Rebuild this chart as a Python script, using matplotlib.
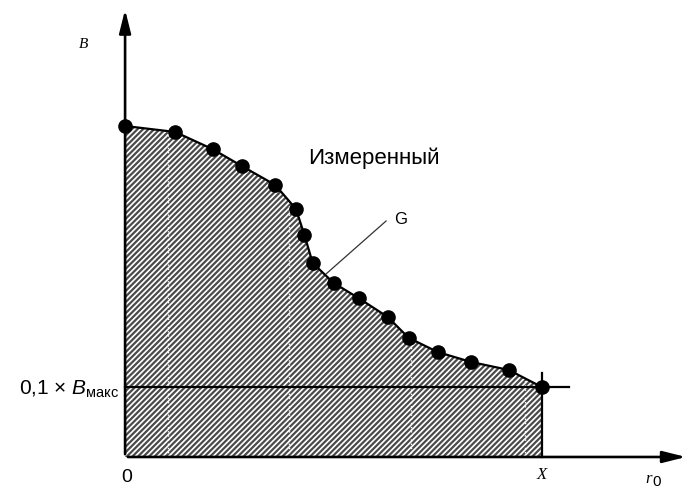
import matplotlib.pyplot as plt
import numpy as np

plt.rcParams['font.family'] = ['Liberation Sans', 'DejaVu Sans']
plt.rcParams['mathtext.fontset'] = 'custom'
plt.rcParams['mathtext.rm'] = 'Liberation Sans'
plt.rcParams['mathtext.it'] = 'Liberation Sans:italic'
plt.rcParams['hatch.linewidth'] = 1.6
plt.rcParams['hatch.color'] = '#4a4a4a'

# измеренные точки (r0, B)
r0 = [0.0, 1.2, 2.1, 2.8, 3.6, 4.1, 4.3, 4.5, 5.0, 5.6, 6.3, 6.8, 7.5, 8.3, 9.2, 10.0]
B = [10.0, 9.82, 9.3, 8.79, 8.22, 7.49, 6.71, 5.86, 5.26, 4.80, 4.23, 3.60, 3.17, 2.87, 2.63, 2.11]
X = 10.0
B_10 = 2.11
dotted_r = [1.03, 3.93, 6.86, 9.59]

fig = plt.figure(figsize=(6.89, 4.89), dpi=100)
ax = fig.add_axes([0, 0, 1, 1])
ax.set_xlim(-3.0, 13.525)
ax.set_ylim(-0.937, 13.837)
ax.axis('off')

# заштрихованная площадь
ax.fill_between(r0, B, 0, facecolor='white', edgecolor='none', hatch='//////', zorder=1)

# белые пунктирные линии внутри штриховки
for r in dotted_r:
    b = np.interp(r, r0, B)
    ax.plot([r, r], [0, b], color='white', lw=1.0, ls=(0, (1, 2)), zorder=2)

# кривая и точки
ax.plot(r0, B, color='black', lw=1.6, zorder=3)
ax.plot(r0, B, 'o', color='black', markersize=9.5, zorder=4)

# линия 0,1 x Bмакс и линия X
ax.plot([0, 10.65], [B_10, B_10], color='black', lw=1.6, zorder=3)
ax.plot([X, X], [0, 2.54], color='black', lw=1.6, zorder=3)

# оси со стрелками
ax.annotate('', xy=(13.52, 0), xytext=(0, 0),
            arrowprops=dict(arrowstyle='-|>,head_length=1.4,head_width=0.35', color='black', lw=1.9))
ax.annotate('', xy=(0, 13.6), xytext=(0, 0),
            arrowprops=dict(arrowstyle='-|>,head_length=1.4,head_width=0.35', color='black', lw=1.9))

# подписи
ax.text(-1.0, 12.5, 'B', family='Liberation Serif', style='italic', fontsize=11, ha='center', va='center')
ax.text(0.05, -0.6, '0', fontsize=14, ha='center', va='center')
ax.text(10.0, -0.52, 'X', family='Liberation Serif', style='italic', fontsize=12, ha='center', va='center')
ax.text(12.55, -0.62, 'r', family='Liberation Serif', style='italic', fontsize=12, ha='center', va='center')
ax.text(12.76, -0.74, '0', fontsize=11, ha='center', va='center')
ax.text(-0.15, 2.06, r'0,1 $\times$ $B_{\mathrm{макс}}$', fontsize=15, ha='right', va='center')
ax.text(4.39, 9.05, 'Измеренный', fontsize=16, ha='left', va='center')

# выноска G
ax.plot([4.82, 6.26], [5.53, 7.13], color='#333333', lw=0.9, zorder=3)
ax.text(6.6, 7.2, 'G', fontsize=12, ha='center', va='center')

plt.savefig('out.png', dpi=100)
